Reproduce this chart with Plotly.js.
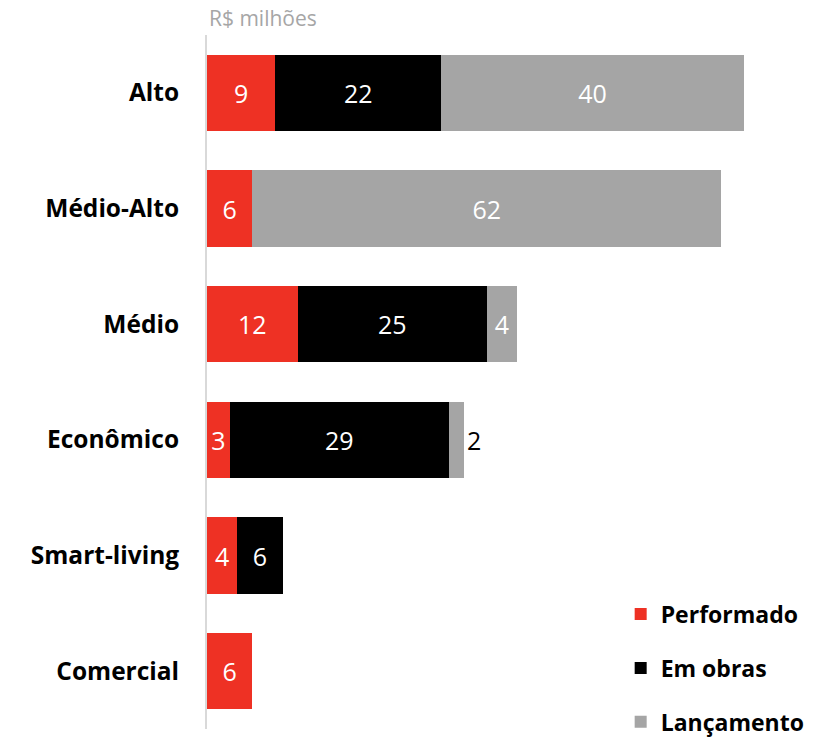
<!DOCTYPE html>
<html>
<head>
<meta charset="utf-8">
<script src="https://cdn.plot.ly/plotly-3.0.1.min.js"></script>
<style>
  body { margin: 0; padding: 0; background: #fff; }
  #draw { width: 830px; height: 739px; }
</style>
</head>
<body>
<div id="draw"></div>
<script>
const categories = ['Alto', 'Médio-Alto', 'Médio', 'Econômico', 'Smart-living', 'Comercial']
const performado = [9, 6, 12, 3, 4, 6]
const emObras = [22, null, 25, 29, 6, null]
const lancamento = [40, 62, 4, 2, null, null]
const seriesNames = ['Performado', 'Em obras', 'Lançamento']
const unitLabel = 'R$ milhões'

const colors = ['#ee3124', '#000000', '#a5a5a5']
const FONT = '"Open Sans", Lato, sans-serif'

const makeTrace = (vals, i, posList) => {
  const tracePos = posList || vals.map(v => 'inside')
  return {
    type: 'bar',
    orientation: 'h',
    y: categories,
    x: vals,
    name: seriesNames[i],
    legendgroup: 'g' + i,
    marker: {color: colors[i], line: {width: 0}},
    text: vals.map(v => v == null ? '' : String(v)),
    textposition: tracePos,
    insidetextanchor: 'middle',
    constraintext: 'none',
    insidetextfont: {family: FONT, size: 25, color: '#ffffff'},
    outsidetextfont: {family: FONT, size: 25, color: '#000000'},
    cliponaxis: false,
    hoverinfo: 'x+name'
  }
}

const main = () => {
  const data = [
    makeTrace(performado, 0),
    makeTrace(emObras, 1),
    makeTrace(lancamento, 2, ['inside', 'inside', 'inside', 'outside', 'inside', 'inside'])
  ]

  const layout = {
    width: 830,
    height: 739,
    margin: {l: 207, r: 0, t: 35, b: 10, autoexpand: false},
    barmode: 'stack',
    bargap: 0.34,
    paper_bgcolor: '#ffffff',
    plot_bgcolor: '#ffffff',
    font: {family: FONT, color: '#000000'},
    showlegend: true,
    legend: {
      x: 0.664, xanchor: 'left',
      y: -0.021, yanchor: 'bottom',
      traceorder: 'grouped',
      tracegroupgap: 21,
      font: {family: FONT, size: 23, color: '#000000', weight: 'bold'},
      itemwidth: 30,
      bgcolor: 'rgba(0,0,0,0)'
    },
    xaxis: {
      range: [0, 82.4],
      showgrid: false,
      zeroline: false,
      showline: false,
      showticklabels: false,
      ticks: ''
    },
    yaxis: {
      autorange: 'reversed',
      type: 'category',
      showgrid: false,
      zeroline: false,
      showline: true,
      linecolor: '#d9d9d9',
      linewidth: 2,
      ticks: '',
      ticklabelstandoff: 21,
      tickfont: {family: FONT, size: 24.5, color: '#000000', weight: 'bold'}
    },
    annotations: [{
      text: unitLabel,
      xref: 'paper', yref: 'paper',
      x: 0, y: 1, xanchor: 'left', yanchor: 'bottom',
      yshift: 1,
      showarrow: false,
      font: {family: FONT, size: 21, color: '#a6a6a6'}
    }]
  }

  Plotly.newPlot('draw', data, layout, {displayModeBar: false, staticPlot: true})
}

main()
</script>
</body>
</html>
